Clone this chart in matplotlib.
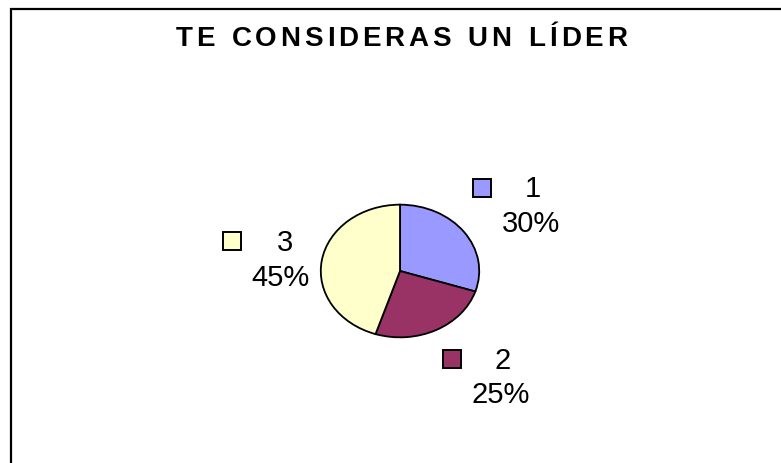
import matplotlib
matplotlib.use("Agg")
import matplotlib.pyplot as plt
from matplotlib.patches import Rectangle

plt.rcParams["font.family"] = ["Liberation Sans", "DejaVu Sans"]

# Data
categories = ["1", "2", "3"]
percentages = [30, 25, 45]
colors = ["#9999ff", "#993366", "#ffffcc"]
title = "TE CONSIDERAS UN LÍDER"

W, H = 781, 464
fig = plt.figure(figsize=(W / 100, H / 100), dpi=100)

# outer chart border (runs off the right/bottom edge like the original)
fig.patches.append(Rectangle((10.5 / W, -0.05), 1.0, 1 - 9.5 / H + 0.05,
                             transform=fig.transFigure, fill=False,
                             edgecolor="black", linewidth=1.6))

# pie in a non-square axes so it comes out as an ellipse
ax = fig.add_axes([320 / W, (H - 339) / H, 160 / W, 134 / H])
ax.pie(percentages, colors=colors, startangle=90, counterclock=False,
       wedgeprops=dict(edgecolor="black", linewidth=1.3))
ax.set_aspect("auto")
ax.set_xlim(-1.01, 1.01)
ax.set_ylim(-1.01, 1.01)
ax.axis("off")

# title with letter spacing
fig.canvas.draw()
renderer = fig.canvas.get_renderer()
fs_title = 20
widths = []
for ch in title:
    t = fig.text(0, 0, ch if ch != " " else "n", fontsize=fs_title, fontweight="bold")
    bb = t.get_window_extent(renderer)
    widths.append(bb.width if ch != " " else bb.width * 0.55)
    t.remove()
spacing = 3.8
total = sum(widths) + spacing * (len(title) - 1)
x = 401 - total / 2
for ch, w in zip(title, widths):
    fig.text(x / W, 1 - 39 / H, ch, fontsize=fs_title, fontweight="bold",
             va="center", ha="left")
    x += w + spacing

# labels: legend-style square + category, percentage below
square_pos = [(482, 189), (452, 360), (232, 242)]
cat_pos = [(533, 189), (503, 361), (285, 243)]
pct_pos = [(531, 224), (501, 395), (280, 278)]
fs = 21
for sq, cp, pp, cat, pct, col in zip(square_pos, cat_pos, pct_pos,
                                     categories, percentages, colors):
    sx, sy = sq
    fig.patches.append(Rectangle(((sx - 9) / W, 1 - (sy + 9) / H), 18 / W, 18 / H,
                                 transform=fig.transFigure, facecolor=col,
                                 edgecolor="black", linewidth=1.4))
    fig.text(cp[0] / W, 1 - cp[1] / H, cat, fontsize=fs, ha="center", va="center")
    fig.text(pp[0] / W, 1 - pp[1] / H, f"{pct}%", fontsize=fs,
             ha="center", va="center")

fig.savefig("out.png", dpi=100)
